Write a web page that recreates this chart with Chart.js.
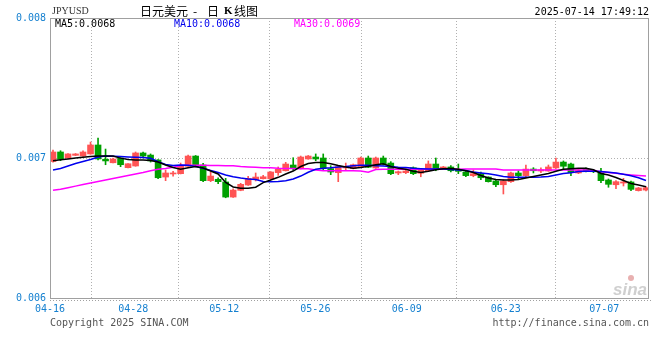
<!DOCTYPE html>
<html>
<head>
<meta charset="utf-8">
<script src="https://cdn.jsdelivr.net/npm/chart.js@4"></script>
<style>
body{margin:0;background:#fff}
canvas{display:block}
</style>
</head>
<body>
<canvas id="kChart" width="660" height="360"></canvas>
<script>
// 日K数据 (JPYUSD), 近似值
const open = [0.006975,0.007043,0.007000,0.007019,0.007014,0.007029,0.007093,0.006991,0.006966,0.007000,
  0.006931,0.006943,0.007036,0.007021,0.006986,0.006864,0.006886,0.006888,0.006941,0.007014,
  0.006950,0.006838,0.006848,0.006829,0.006721,0.006769,0.006807,0.006846,0.006852,0.006852,
  0.006895,0.006909,0.006950,0.006924,0.006993,0.007007,0.007000,0.006924,0.006895,0.006929,
  0.006924,0.006936,0.007000,0.006929,0.007000,0.006964,0.006893,0.006895,0.006931,0.006891,
  0.006909,0.006957,0.006919,0.006936,0.006914,0.006900,0.006874,0.006888,0.006864,0.006836,
  0.006809,0.006831,0.006893,0.006874,0.006921,0.006907,0.006907,0.006929,0.006971,0.006957,
  0.006893,0.006919,0.006907,0.006895,0.006843,0.006809,0.006821,0.006829,0.006767,0.006771];
const high = [0.007057,0.007052,0.007031,0.007032,0.007052,0.007114,0.007143,0.007064,0.007000,0.007002,
  0.006961,0.007043,0.007043,0.007029,0.006989,0.006914,0.006905,0.006964,0.007021,0.007018,
  0.006962,0.006898,0.006859,0.006855,0.006779,0.006819,0.006869,0.006893,0.006876,0.006903,
  0.006936,0.006969,0.007002,0.007014,0.007018,0.007029,0.007029,0.006945,0.006943,0.006964,
  0.006957,0.007007,0.007014,0.007007,0.007014,0.006974,0.006907,0.006916,0.006936,0.006921,
  0.006979,0.007000,0.006940,0.006945,0.006957,0.006909,0.006914,0.006900,0.006866,0.006845,
  0.006845,0.006900,0.006909,0.006950,0.006931,0.006929,0.006950,0.007000,0.006979,0.006964,
  0.006919,0.006929,0.006914,0.006926,0.006850,0.006838,0.006855,0.006836,0.006790,0.006795];
const low = [0.006971,0.006981,0.006998,0.007017,0.007012,0.007027,0.006986,0.006952,0.006964,0.006938,
  0.006929,0.006941,0.007000,0.006971,0.006852,0.006838,0.006871,0.006886,0.006939,0.006940,
  0.006831,0.006831,0.006816,0.006716,0.006718,0.006766,0.006805,0.006836,0.006850,0.006850,
  0.006876,0.006907,0.006914,0.006922,0.006991,0.006981,0.006916,0.006881,0.006831,0.006916,
  0.006922,0.006933,0.006931,0.006926,0.006950,0.006881,0.006881,0.006888,0.006881,0.006866,
  0.006907,0.006909,0.006917,0.006900,0.006888,0.006866,0.006866,0.006845,0.006828,0.006795,
  0.006743,0.006826,0.006845,0.006866,0.006893,0.006895,0.006905,0.006926,0.006924,0.006874,
  0.006888,0.006900,0.006895,0.006824,0.006791,0.006781,0.006800,0.006767,0.006764,0.006764];
const close = [0.007043,0.006991,0.007029,0.007029,0.007043,0.007093,0.006993,0.006979,0.006993,0.006952,
  0.006959,0.007036,0.007014,0.006979,0.006859,0.006893,0.006893,0.006945,0.007014,0.006943,
  0.006838,0.006871,0.006831,0.006721,0.006771,0.006812,0.006855,0.006864,0.006866,0.006900,
  0.006919,0.006957,0.006929,0.007007,0.007014,0.006993,0.006924,0.006900,0.006938,0.006936,
  0.006952,0.007000,0.006934,0.007000,0.006957,0.006888,0.006902,0.006907,0.006888,0.006914,
  0.006957,0.006919,0.006936,0.006909,0.006905,0.006874,0.006888,0.006859,0.006831,0.006809,
  0.006836,0.006893,0.006874,0.006921,0.006909,0.006916,0.006936,0.006971,0.006941,0.006895,
  0.006914,0.006907,0.006902,0.006838,0.006812,0.006831,0.006829,0.006776,0.006786,0.006788];

// 均线 (也是从图上读出)
const ma5 = [0.006981,0.006987,0.006993,0.007000,0.007006,0.007011,0.007014,0.007014,0.007014,0.006999,
  0.006989,0.006986,0.006986,0.006982,0.006971,0.006950,0.006932,0.006919,0.006931,0.006939,
  0.006929,0.006907,0.006886,0.006825,0.006793,0.006784,0.006784,0.006791,0.006824,0.006843,
  0.006862,0.006886,0.006907,0.006939,0.006961,0.006968,0.006968,0.006959,0.006946,0.006936,
  0.006926,0.006932,0.006941,0.006951,0.006959,0.006939,0.006926,0.006920,0.006906,0.006896,
  0.006905,0.006916,0.006923,0.006925,0.006919,0.006909,0.006896,0.006875,0.006857,0.006846,
  0.006843,0.006843,0.006846,0.006857,0.006868,0.006879,0.006890,0.006905,0.006919,0.006924,
  0.006926,0.006926,0.006916,0.006889,0.006879,0.006861,0.006839,0.006818,0.006807,0.006795];
const ma10 = [0.006914,0.006925,0.006943,0.006961,0.006975,0.006989,0.007007,0.007014,0.007012,0.007010,
  0.007007,0.007005,0.007004,0.006998,0.006973,0.006954,0.006946,0.006950,0.006949,0.006939,
  0.006927,0.006911,0.006896,0.006879,0.006866,0.006857,0.006850,0.006846,0.006832,0.006831,
  0.006832,0.006838,0.006850,0.006871,0.006898,0.006919,0.006926,0.006930,0.006936,0.006939,
  0.006945,0.006949,0.006948,0.006945,0.006943,0.006939,0.006934,0.006932,0.006926,0.006924,
  0.006921,0.006921,0.006921,0.006918,0.006914,0.006911,0.006900,0.006893,0.006887,0.006879,
  0.006868,0.006863,0.006862,0.006862,0.006862,0.006864,0.006868,0.006879,0.006889,0.006895,
  0.006904,0.006906,0.006906,0.006904,0.006898,0.006893,0.006884,0.006873,0.006859,0.006839];
const ma30 = [0.006769,0.006777,0.006788,0.006799,0.006810,0.006821,0.006832,0.006843,0.006854,0.006864,
  0.006875,0.006886,0.006896,0.006909,0.006919,0.006925,0.006934,0.006946,0.006949,0.006949,
  0.006948,0.006946,0.006946,0.006945,0.006945,0.006939,0.006936,0.006934,0.006931,0.006931,
  0.006926,0.006925,0.006925,0.006924,0.006923,0.006914,0.006909,0.006909,0.006909,0.006909,
  0.006909,0.006907,0.006898,0.006918,0.006919,0.006919,0.006919,0.006919,0.006919,0.006919,
  0.006919,0.006919,0.006919,0.006919,0.006920,0.006921,0.006921,0.006921,0.006921,0.006921,
  0.006914,0.006914,0.006914,0.006914,0.006914,0.006914,0.006914,0.006914,0.006914,0.006914,
  0.006914,0.006914,0.006912,0.006902,0.006896,0.006891,0.006884,0.006879,0.006875,0.006871];

// x轴刻度 (K线序号) 和日期标签
const tickPos = [-0.4, 10.7, 22.82, 34.95, 47.12, 60.31, 73.45];
const tickLabels = ['04-16', '04-28', '05-12', '05-26', '06-09', '06-23', '07-07'];

const UP = '#ff5454', DOWN = '#00a000';
const BLUE_TXT = '#1580d0';
const mono = "'DejaVu Sans Mono', monospace";

const idx = close.map((_, i) => i);
const candleColor = idx.map(i => close[i] >= open[i] ? UP : DOWN);

// 边框和文字
const decor = {
    id: 'decor',
    afterDraw(chart) {
        const c = chart.ctx, a = chart.chartArea;
        c.save();
        c.strokeStyle = '#a0a0a0';
        c.lineWidth = 1;
        c.strokeRect(a.left + 0.5, a.top + 0.5, a.right - a.left - 1, a.bottom - a.top);
        c.setLineDash([1, 2]);
        c.beginPath();
        c.moveTo(a.left, a.bottom + 2.5);
        c.lineTo(a.right + 3, a.bottom + 2.5);
        c.stroke();
        c.setLineDash([]);

        c.textBaseline = 'middle';
        c.fillStyle = '#333';
        c.font = "10px 'Liberation Serif'";
        c.fillText('JPYUSD', 52, 11);

        c.fillStyle = '#000';
        c.font = "12px 'Noto Sans CJK SC'";
        c.fillText('日元美元', 140, 11);
        c.fillText('-', 193, 11);
        c.fillText('日', 207, 11);
        c.font = "bold 11px 'Liberation Serif'";
        c.fillText('K', 224, 11);
        c.font = "12px 'Noto Sans CJK SC'";
        c.fillText('线图', 234, 11);

        c.font = '10px ' + mono;
        c.textAlign = 'right';
        c.fillText('2025-07-14 17:49:12', 649, 12);

        c.textAlign = 'left';
        c.fillStyle = '#000';
        c.fillText('MA5:' + ma5[ma5.length - 1].toFixed(4), 55, 24);
        c.fillStyle = '#0000ee';
        c.fillText('MA10:' + ma10[ma10.length - 1].toFixed(4), 174, 24);
        c.fillStyle = '#ff00ff';
        c.fillText('MA30:' + ma30[ma30.length - 1].toFixed(4), 294, 24);

        c.fillStyle = '#555';
        c.fillText('Copyright 2025 SINA.COM', 50, 323);
        c.textAlign = 'right';
        c.fillText('http://finance.sina.com.cn', 649, 323);

        // 水印
        c.fillStyle = '#cfcfcf';
        c.font = "italic bold 17px 'Liberation Sans'";
        c.fillText('sina', 647, 290);
        c.beginPath();
        c.arc(631, 278, 3, 0, Math.PI * 2);
        c.fillStyle = '#e8b0b0';
        c.fill();
        c.restore();
    }
};

new Chart(document.getElementById('kChart').getContext('2d'), {
    type: 'bar',
    data: {
        datasets: [
            {
                type: 'line', data: ma5.map((v, i) => ({x: i, y: v})),
                borderColor: '#000', borderWidth: 1.5, pointRadius: 0, order: 0
            },
            {
                type: 'line', data: ma10.map((v, i) => ({x: i, y: v})),
                borderColor: '#0000ee', borderWidth: 1.5, pointRadius: 0, order: 0
            },
            {
                type: 'line', data: ma30.map((v, i) => ({x: i, y: v})),
                borderColor: '#ff00ff', borderWidth: 1.5, pointRadius: 0, order: 0
            },
            {
                // 影线
                data: idx.map(i => ({x: i, y: [low[i], high[i]]})),
                backgroundColor: candleColor, barThickness: 1, grouped: false, order: 2
            },
            {
                // 实体
                data: idx.map(i => ({x: i, y: [open[i], close[i]]})),
                backgroundColor: candleColor, barThickness: 6, minBarLength: 1,
                grouped: false, order: 1
            }
        ]
    },
    options: {
        responsive: false,
        animation: false,
        layout: {padding: {top: 18, right: 11, left: 0, bottom: 0}},
        plugins: {legend: {display: false}, tooltip: {enabled: false}},
        scales: {
            x: {
                type: 'linear', min: -0.4, max: 79.4, offset: false,
                afterBuildTicks: s => { s.ticks = tickPos.map(v => ({value: v})); },
                afterFit: s => { s.height = 62; },
                ticks: {
                    autoSkip: false, maxRotation: 0, padding: 5,
                    color: BLUE_TXT, font: {family: mono, size: 10},
                    callback: (v, i) => tickLabels[i]
                },
                grid: {
                    drawTicks: false, lineWidth: 1,
                    color: c => c.index === 0 ? 'rgba(0,0,0,0)' : '#b0b0b0'
                },
                border: {display: false, dash: [1, 2]}
            },
            y: {
                min: 0.006, max: 0.008,
                afterFit: s => { s.width = 50; },
                ticks: {
                    stepSize: 0.001, padding: 4,
                    color: BLUE_TXT, font: {family: mono, size: 10},
                    callback: v => v.toFixed(3)
                },
                grid: {
                    drawTicks: false, lineWidth: 1,
                    color: c => (c.tick && Math.abs(c.tick.value - 0.007) < 1e-7) ? '#b0b0b0' : 'rgba(0,0,0,0)'
                },
                border: {display: false, dash: [1, 2]}
            }
        }
    },
    plugins: [decor]
});
</script>
</body>
</html>
